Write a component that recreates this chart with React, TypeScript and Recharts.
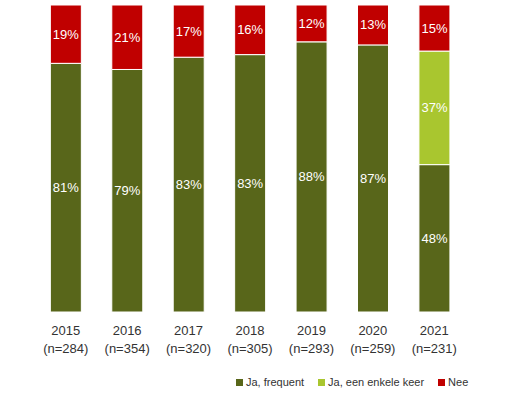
import React from "react";
import { BarChart, Bar, XAxis, YAxis, LabelList } from "recharts";

// survey years and sample sizes
const years = ["2015", "2016", "2017", "2018", "2019", "2020", "2021"];
const sampleSizes = ["(n=284)", "(n=354)", "(n=320)", "(n=305)", "(n=293)", "(n=259)", "(n=231)"];

// shares per answer, in percent
const frequent = [81, 79, 83, 83, 88, 87, 48];
const occasional = [0, 0, 0, 0, 0, 0, 37];
const no = [19, 21, 17, 16, 12, 13, 15];

const seriesNames = ["Ja, frequent", "Ja, een enkele keer", "Nee"];
const seriesColors = ["#58661A", "#A9C62F", "#C00000"];

const data = years.map((year, i) => ({
  year,
  n: sampleSizes[i],
  frequent: frequent[i],
  occasional: occasional[i],
  no: no[i],
}));

const FONT = "'Liberation Sans', Arial, sans-serif";

function SegmentLabel(props: any) {
  const { x, y, width, height, value } = props;
  if (typeof value !== "number" || !value) return null;
  return (
    <text
      x={x + width / 2}
      y={y + height / 2}
      textAnchor="middle"
      dominantBaseline="central"
      fill="#ffffff"
      fontSize={13}
      fontFamily={FONT}
    >
      {value}%
    </text>
  );
}

function YearTick(props: any) {
  const { x, y, payload, index } = props;
  return (
    <g>
      <text x={x} y={y + 23} textAnchor="middle" fill="#333" fontSize={13} fontFamily={FONT}>
        {payload.value}
      </text>
      <text x={x} y={y + 41} textAnchor="middle" fill="#333" fontSize={13} fontFamily={FONT}>
        {sampleSizes[index]}
      </text>
    </g>
  );
}

export default function App() {
  return (
    <div style={{ position: "absolute", left: 0, top: 0, width: 508, height: 397, background: "#fff" }}>
      <BarChart
        width={508}
        height={397}
        data={data}
        stackOffset="expand"
        barCategoryGap="25%"
        margin={{ top: 5, right: 43, left: 35, bottom: 0 }}
      >
        <XAxis
          dataKey="year"
          axisLine={false}
          tickLine={false}
          tickSize={0}
          tickMargin={0}
          height={85}
          interval={0}
          tick={<YearTick />}
        />
        <YAxis hide domain={[0, 1]} />
        <Bar dataKey="frequent" stackId="a" fill={seriesColors[0]} stroke="#fff" strokeWidth={1} isAnimationActive={false}>
          <LabelList dataKey="frequent" content={<SegmentLabel />} />
        </Bar>
        <Bar dataKey="occasional" stackId="a" fill={seriesColors[1]} stroke="#fff" strokeWidth={1} isAnimationActive={false}>
          <LabelList dataKey="occasional" content={<SegmentLabel />} />
        </Bar>
        <Bar dataKey="no" stackId="a" fill={seriesColors[2]} stroke="#fff" strokeWidth={1} isAnimationActive={false}>
          <LabelList dataKey="no" content={<SegmentLabel />} />
        </Bar>
      </BarChart>
      <div
        style={{
          position: "absolute",
          top: 375,
          left: 236,
          display: "flex",
          gap: 14,
          fontFamily: FONT,
          fontSize: 11,
          color: "#333",
          lineHeight: "14px",
          whiteSpace: "nowrap",
        }}
      >
        {seriesNames.map((name, i) => (
          <div key={name} style={{ display: "flex", alignItems: "center" }}>
            <span style={{ width: 7, height: 7, background: seriesColors[i], marginRight: 3, display: "inline-block" }} />
            <span>{name}</span>
          </div>
        ))}
      </div>
    </div>
  );
}
